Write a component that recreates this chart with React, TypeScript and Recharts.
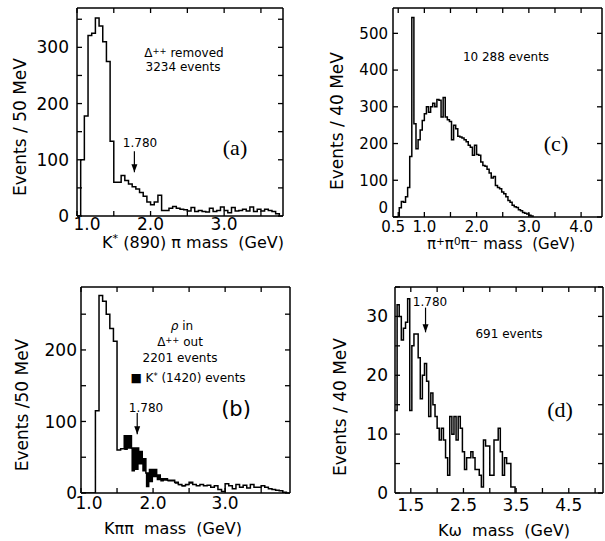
import React from "react";
import {
  ComposedChart,
  Line,
  Area,
  XAxis,
  YAxis,
  ReferenceLine,
  ReferenceDot,
} from "recharts";

const SANS = "'DejaVu Sans', sans-serif";
const SERIF = "'Liberation Serif', serif";

// (a) K*(890)π mass, Δ++ removed — 50 MeV bins from 1.00 GeV
const aStart = 1.0;
const aBin = 0.05;
const aCounts = [
  0, 100, 178, 321, 325, 352, 338, 310, 275, 133, 60, 60, 72, 63, 57, 52, 48,
  42, 35, 25, 20, 25, 37, 10, 10, 14, 17, 14, 12, 11, 9, 15, 8, 10, 8, 7, 14, 8,
  10, 16, 10, 6, 15, 9, 10, 12, 9, 16, 8, 12, 9, 12, 10, 8, 4,
];
const aXTicks = [1.0, 1.5, 2.0, 2.5, 3.0, 3.5];
const aYTicks = [0, 50, 100, 150, 200, 250, 300, 350];

// (b) Kππ mass, ρ in / Δ++ out — 50 MeV bins from 1.00 GeV
const bStart = 1.0;
const bBin = 0.05;
const bCounts = [
  0, 0, 0, 0, 115, 276, 268, 250, 230, 212, 60, 62, 80, 80, 63, 63, 58, 48, 28,
  33, 33, 25, 20, 20, 18, 18, 15, 12, 10, 12, 15, 12, 10, 12, 10, 11, 8, 10, 5,
  2, 13, 10, 6, 12, 8, 11, 7, 12, 8, 8, 10, 8, 6, 5, 4, 3, 1,
];
// K*(1420) events (black band), from 1.60 GeV
const bBandStart = 1.6;
const bBandLo = [60, 62, 30, 32, 40, 30, 8, 15, 22, 18, 16, 17, 16, 16, 13, 11, 9, 11, 13];
const bBandHi = [80, 80, 63, 63, 58, 48, 28, 33, 33, 25, 20, 20, 18, 18, 15, 12, 10, 12, 15];
const bXTicks = [1.0, 1.5, 2.0, 2.5, 3.0, 3.5];
const bYTicks = [0, 50, 100, 150, 200, 250];

// (c) π+π0π− mass — 40 MeV bins from 0.40 GeV
const cStart = 0.4;
const cBin = 0.04;
const cCounts = [
  0, 0, 0, 25, 42, 40, 55, 80, 165, 543, 254, 186, 210, 237, 263, 281, 300, 285,
  300, 310, 300, 320, 318, 272, 325, 272, 265, 260, 210, 250, 240, 220, 218, 215,
  210, 205, 195, 190, 168, 195, 170, 168, 150, 140, 138, 130, 120, 106, 110, 86,
  80, 77, 68, 63, 55, 45, 40, 32, 28, 26, 20, 17, 12, 10, 8, 5, 3,
];
const cXTicks = [0.5, 1.0, 1.5, 2.0, 2.5, 3.0, 3.5, 4.0];
const cYTicks = [0, 100, 200, 300, 400, 500];

// (d) Kω mass — 40 MeV bins from 1.20 GeV
const dStart = 1.2;
const dBin = 0.04;
const dCounts = [
  14, 32, 30, 26, 28, 29, 33, 14, 25, 27, 27, 23, 16, 20, 22, 19, 13, 17, 15,
  13, 11, 9, 11, 9, 6, 3, 13, 10, 13, 9, 13, 11, 7, 4, 6, 6, 7, 6, 4, 4, 3, 1, 9,
  8, 8, 3, 3, 9, 9, 11, 7, 3, 6, 5, 5, 1, 1,
];
const dXTicks = [1.5, 2.0, 2.5, 3.0, 3.5, 4.0, 4.5, 5.0];
const dYTicks = [0, 5, 10, 15, 20, 25, 30, 35];

type Row = { x: number; y: number };
type BandRow = { x: number; lo: number; hi: number };

function hist(start: number, bin: number, counts: number[]): Row[] {
  const rows = counts.map((c, i) => ({ x: +(start + i * bin).toFixed(3), y: c }));
  rows.push({ x: +(start + counts.length * bin).toFixed(3), y: 0 });
  return rows;
}

function band(start: number, bin: number, lo: number[], hi: number[]): BandRow[] {
  const rows = lo.map((l, i) => ({ x: +(start + i * bin).toFixed(3), lo: l, hi: hi[i] }));
  const last = rows[rows.length - 1];
  rows.push({ x: +(start + lo.length * bin).toFixed(3), lo: last.lo, hi: last.hi });
  return rows;
}

const arrowHead = (props: any) => {
  const { cx, cy } = props;
  return (
    <path
      d={`M${cx - 3},${cy - 8} L${cx + 3},${cy - 8} L${cx},${cy} Z`}
      fill="#000"
    />
  );
};

const blank = () => "";

interface PanelProps {
  plotX: number;
  plotY: number;
  plotW: number;
  plotH: number;
  xDomain: [number, number];
  yDomain: [number, number];
  xTicks: number[];
  yTicks: number[];
  xFmt: (v: number) => string;
  yFmt: (v: number) => string;
  xShift?: Record<string, number>;
  yShift?: Record<string, number>;
  fontSize: number;
  xMargin: number;
  yMargin: number;
  data: Row[];
  bandData?: BandRow[];
  arrow?: { x: number; y1: number; y2: number };
}

function Panel(p: PanelProps) {
  const yAxisW = 60;
  const xAxisH = 32;
  const edge = 3;
  const axisStyle = { stroke: "#000", strokeWidth: 1.5 };
  const tickLine = { stroke: "#000", strokeWidth: 1.3 };
  const xTick = (props: any) => {
    const { x, y, payload } = props;
    const dx = (p.xShift && p.xShift[String(payload.value)]) || 0;
    return (
      <text x={x + dx} y={y} dy="0.71em" textAnchor="middle"
        fontSize={p.fontSize} fontFamily={SANS} fill="#000">
        {p.xFmt(payload.value)}
      </text>
    );
  };
  const yTick = (props: any) => {
    const { x, y, payload } = props;
    const dy = (p.yShift && p.yShift[String(payload.value)]) || 0;
    return (
      <text x={x} y={y + dy} dy="0.355em" textAnchor="end"
        fontSize={p.fontSize} fontFamily={SANS} fill="#000">
        {p.yFmt(payload.value)}
      </text>
    );
  };
  return (
    <div style={{ position: "absolute", left: p.plotX - yAxisW, top: p.plotY - edge }}>
      <ComposedChart
        width={yAxisW + p.plotW + edge}
        height={p.plotH + xAxisH + edge}
        data={p.data}
        margin={{ top: 0, right: 0, left: 0, bottom: 0 }}
      >
        <XAxis
          xAxisId="b"
          type="number"
          dataKey="x"
          domain={p.xDomain}
          ticks={p.xTicks}
          interval={0}
          tickSize={-5}
          tickMargin={p.xMargin}
          height={xAxisH}
          allowDataOverflow
          axisLine={axisStyle}
          tickLine={tickLine}
          tick={xTick}
        />
        <XAxis
          xAxisId="t"
          orientation="top"
          type="number"
          dataKey="x"
          domain={p.xDomain}
          ticks={p.xTicks}
          interval={0}
          tickFormatter={blank}
          tickSize={-5}
          tickMargin={0}
          height={edge}
          allowDataOverflow
          axisLine={axisStyle}
          tickLine={tickLine}
        />
        <YAxis
          yAxisId="l"
          type="number"
          domain={p.yDomain}
          ticks={p.yTicks}
          interval={0}
          tickSize={-5}
          tickMargin={p.yMargin}
          width={yAxisW}
          allowDataOverflow
          axisLine={axisStyle}
          tickLine={tickLine}
          tick={yTick}
        />
        <YAxis
          yAxisId="r"
          orientation="right"
          type="number"
          domain={p.yDomain}
          ticks={p.yTicks}
          interval={0}
          tickFormatter={blank}
          tickSize={-5}
          tickMargin={0}
          width={edge}
          allowDataOverflow
          axisLine={axisStyle}
          tickLine={tickLine}
        />
        {/* invisible copy so the top / right frame axes are bound to a series */}
        <Line
          xAxisId="t"
          yAxisId="r"
          dataKey="y"
          stroke="none"
          dot={false}
          activeDot={false}
          legendType="none"
          isAnimationActive={false}
        />
        {p.bandData && (
          <Area
            xAxisId="b"
            yAxisId="l"
            data={p.bandData}
            dataKey={(d: BandRow) => [d.lo, d.hi]}
            type="stepAfter"
            stroke="none"
            fill="#000"
            fillOpacity={1}
            isAnimationActive={false}
          />
        )}
        <Line
          xAxisId="b"
          yAxisId="l"
          dataKey="y"
          type="stepAfter"
          stroke="#000"
          strokeWidth={1.5}
          dot={false}
          isAnimationActive={false}
        />
        {p.arrow && (
          <ReferenceLine
            xAxisId="b"
            yAxisId="l"
            segment={[
              { x: p.arrow.x, y: p.arrow.y1 },
              { x: p.arrow.x, y: p.arrow.y2 },
            ]}
            stroke="#000"
            strokeWidth={1.2}
          />
        )}
        {p.arrow && (
          <ReferenceDot
            xAxisId="b"
            yAxisId="l"
            x={p.arrow.x}
            y={p.arrow.y2}
            shape={arrowHead}
          />
        )}
      </ComposedChart>
    </div>
  );
}

function Txt({
  x,
  y,
  size,
  children,
  rotate,
  serif,
}: {
  x: number;
  y: number;
  size: number;
  children: React.ReactNode;
  rotate?: boolean;
  serif?: boolean;
}) {
  return (
    <div
      style={{
        position: "absolute",
        left: x,
        top: y,
        transform: `translate(-50%, -50%)${rotate ? " rotate(-90deg)" : ""}`,
        fontFamily: serif ? SERIF : SANS,
        fontSize: size,
        whiteSpace: "nowrap",
        lineHeight: 1,
        color: "#000",
      }}
    >
      {children}
    </div>
  );
}

const sup = (s: string) => (
  <span style={{ fontSize: "0.7em", verticalAlign: "0.45em" }}>{s}</span>
);

export default function App() {
  const intFmt = (v: number) => (Number.isInteger(v) ? v.toFixed(1) : "");
  const halfFmt = (v: number) => (Math.abs(v - Math.floor(v) - 0.5) < 1e-6 ? v.toFixed(1) : "");
  const cFmt = (v: number) => (v === 0.5 || Number.isInteger(v) ? v.toFixed(1) : "");
  const every = (n: number) => (v: number) => (v % n === 0 ? String(v) : "");

  return (
    <div
      style={{
        position: "absolute",
        left: 0,
        top: 0,
        width: 605,
        height: 541,
        background: "#fff",
        overflow: "hidden",
      }}
    >
      <Panel
        plotX={77}
        plotY={8}
        plotW={206}
        plotH={208}
        xDomain={[1.0, 3.8]}
        yDomain={[0, 370]}
        xTicks={aXTicks}
        yTicks={aYTicks}
        xFmt={intFmt}
        xShift={{ "1": 10 }}
        yFmt={every(100)}
        fontSize={17}
        xMargin={7}
        yMargin={13}
        data={hist(aStart, aBin, aCounts)}
        arrow={{ x: 1.78, y1: 115, y2: 78 }}
      />
      <Panel
        plotX={81}
        plotY={287}
        plotW={209}
        plotH={206}
        xDomain={[1.0, 3.9]}
        yDomain={[0, 288]}
        xTicks={bXTicks}
        yTicks={bYTicks}
        xFmt={intFmt}
        xShift={{ "1": 8 }}
        yFmt={every(100)}
        fontSize={17}
        xMargin={9}
        yMargin={9}
        data={hist(bStart, bBin, bCounts)}
        bandData={band(bBandStart, bBin, bBandLo, bBandHi)}
        arrow={{ x: 1.78, y1: 112, y2: 82 }}
      />
      <Panel
        plotX={393}
        plotY={8}
        plotW={209}
        plotH={209}
        xDomain={[0.4, 4.4]}
        yDomain={[0, 569]}
        xTicks={cXTicks}
        yTicks={cYTicks}
        xFmt={cFmt}
        xShift={{ "0.5": -5 }}
        yShift={{ "0": -9 }}
        yFmt={every(100)}
        fontSize={15}
        xMargin={9}
        yMargin={10}
        data={hist(cStart, cBin, cCounts)}
      />
      <Panel
        plotX={395}
        plotY={287}
        plotW={208}
        plotH={206}
        xDomain={[1.2, 5.15]}
        yDomain={[0, 35]}
        xTicks={dXTicks}
        yTicks={dYTicks}
        xFmt={halfFmt}
        yFmt={every(10)}
        fontSize={17}
        xMargin={11}
        yMargin={12}
        data={hist(dStart, dBin, dCounts)}
        arrow={{ x: 1.78, y1: 31.5, y2: 27.3 }}
      />

      {/* (a) */}
      <Txt x={20} y={127} size={17} rotate>Events / 50 MeV</Txt>
      <Txt x={184} y={53} size={12}>Δ{sup("++")} removed</Txt>
      <Txt x={183} y={67} size={12}>3234 events</Txt>
      <Txt x={140} y={143} size={12}>1.780</Txt>
      <Txt x={235} y={148} size={22} serif>(a)</Txt>
      <Txt x={193} y={242} size={16}>K{sup("*")} (890) π mass &nbsp;(GeV)</Txt>

      {/* (b) */}
      <Txt x={22} y={405} size={17} rotate>Events /50 MeV</Txt>
      <Txt x={182} y={326} size={12}><i>ρ</i> in</Txt>
      <Txt x={180} y={342} size={12}>Δ{sup("++")} out</Txt>
      <Txt x={180} y={358} size={12}>2201 events</Txt>
      <Txt x={188} y={378} size={12}>■ K{sup("*")} (1420) events</Txt>
      <Txt x={146} y={408} size={12}>1.780</Txt>
      <Txt x={236} y={409} size={21}>(b)</Txt>
      <Txt x={173} y={529} size={16}>Kππ &nbsp;mass &nbsp;(GeV)</Txt>

      {/* (c) */}
      <Txt x={337} y={121} size={17} rotate>Events / 40 MeV</Txt>
      <Txt x={506} y={57} size={12}>10 288 events</Txt>
      <Txt x={556} y={144} size={22} serif>(c)</Txt>
      <Txt x={501} y={244} size={15}>π{sup("+")}π{sup("0")}π{sup("−")} mass &nbsp;(GeV)</Txt>

      {/* (d) */}
      <Txt x={340} y={407} size={17} rotate>Events / 40 MeV</Txt>
      <Txt x={509} y={334} size={12}>691 events</Txt>
      <Txt x={430} y={302} size={12}>1.780</Txt>
      <Txt x={560} y={410} size={22} serif>(d)</Txt>
      <Txt x={504} y={531} size={16}>Kω &nbsp;mass &nbsp;(GeV)</Txt>
    </div>
  );
}
